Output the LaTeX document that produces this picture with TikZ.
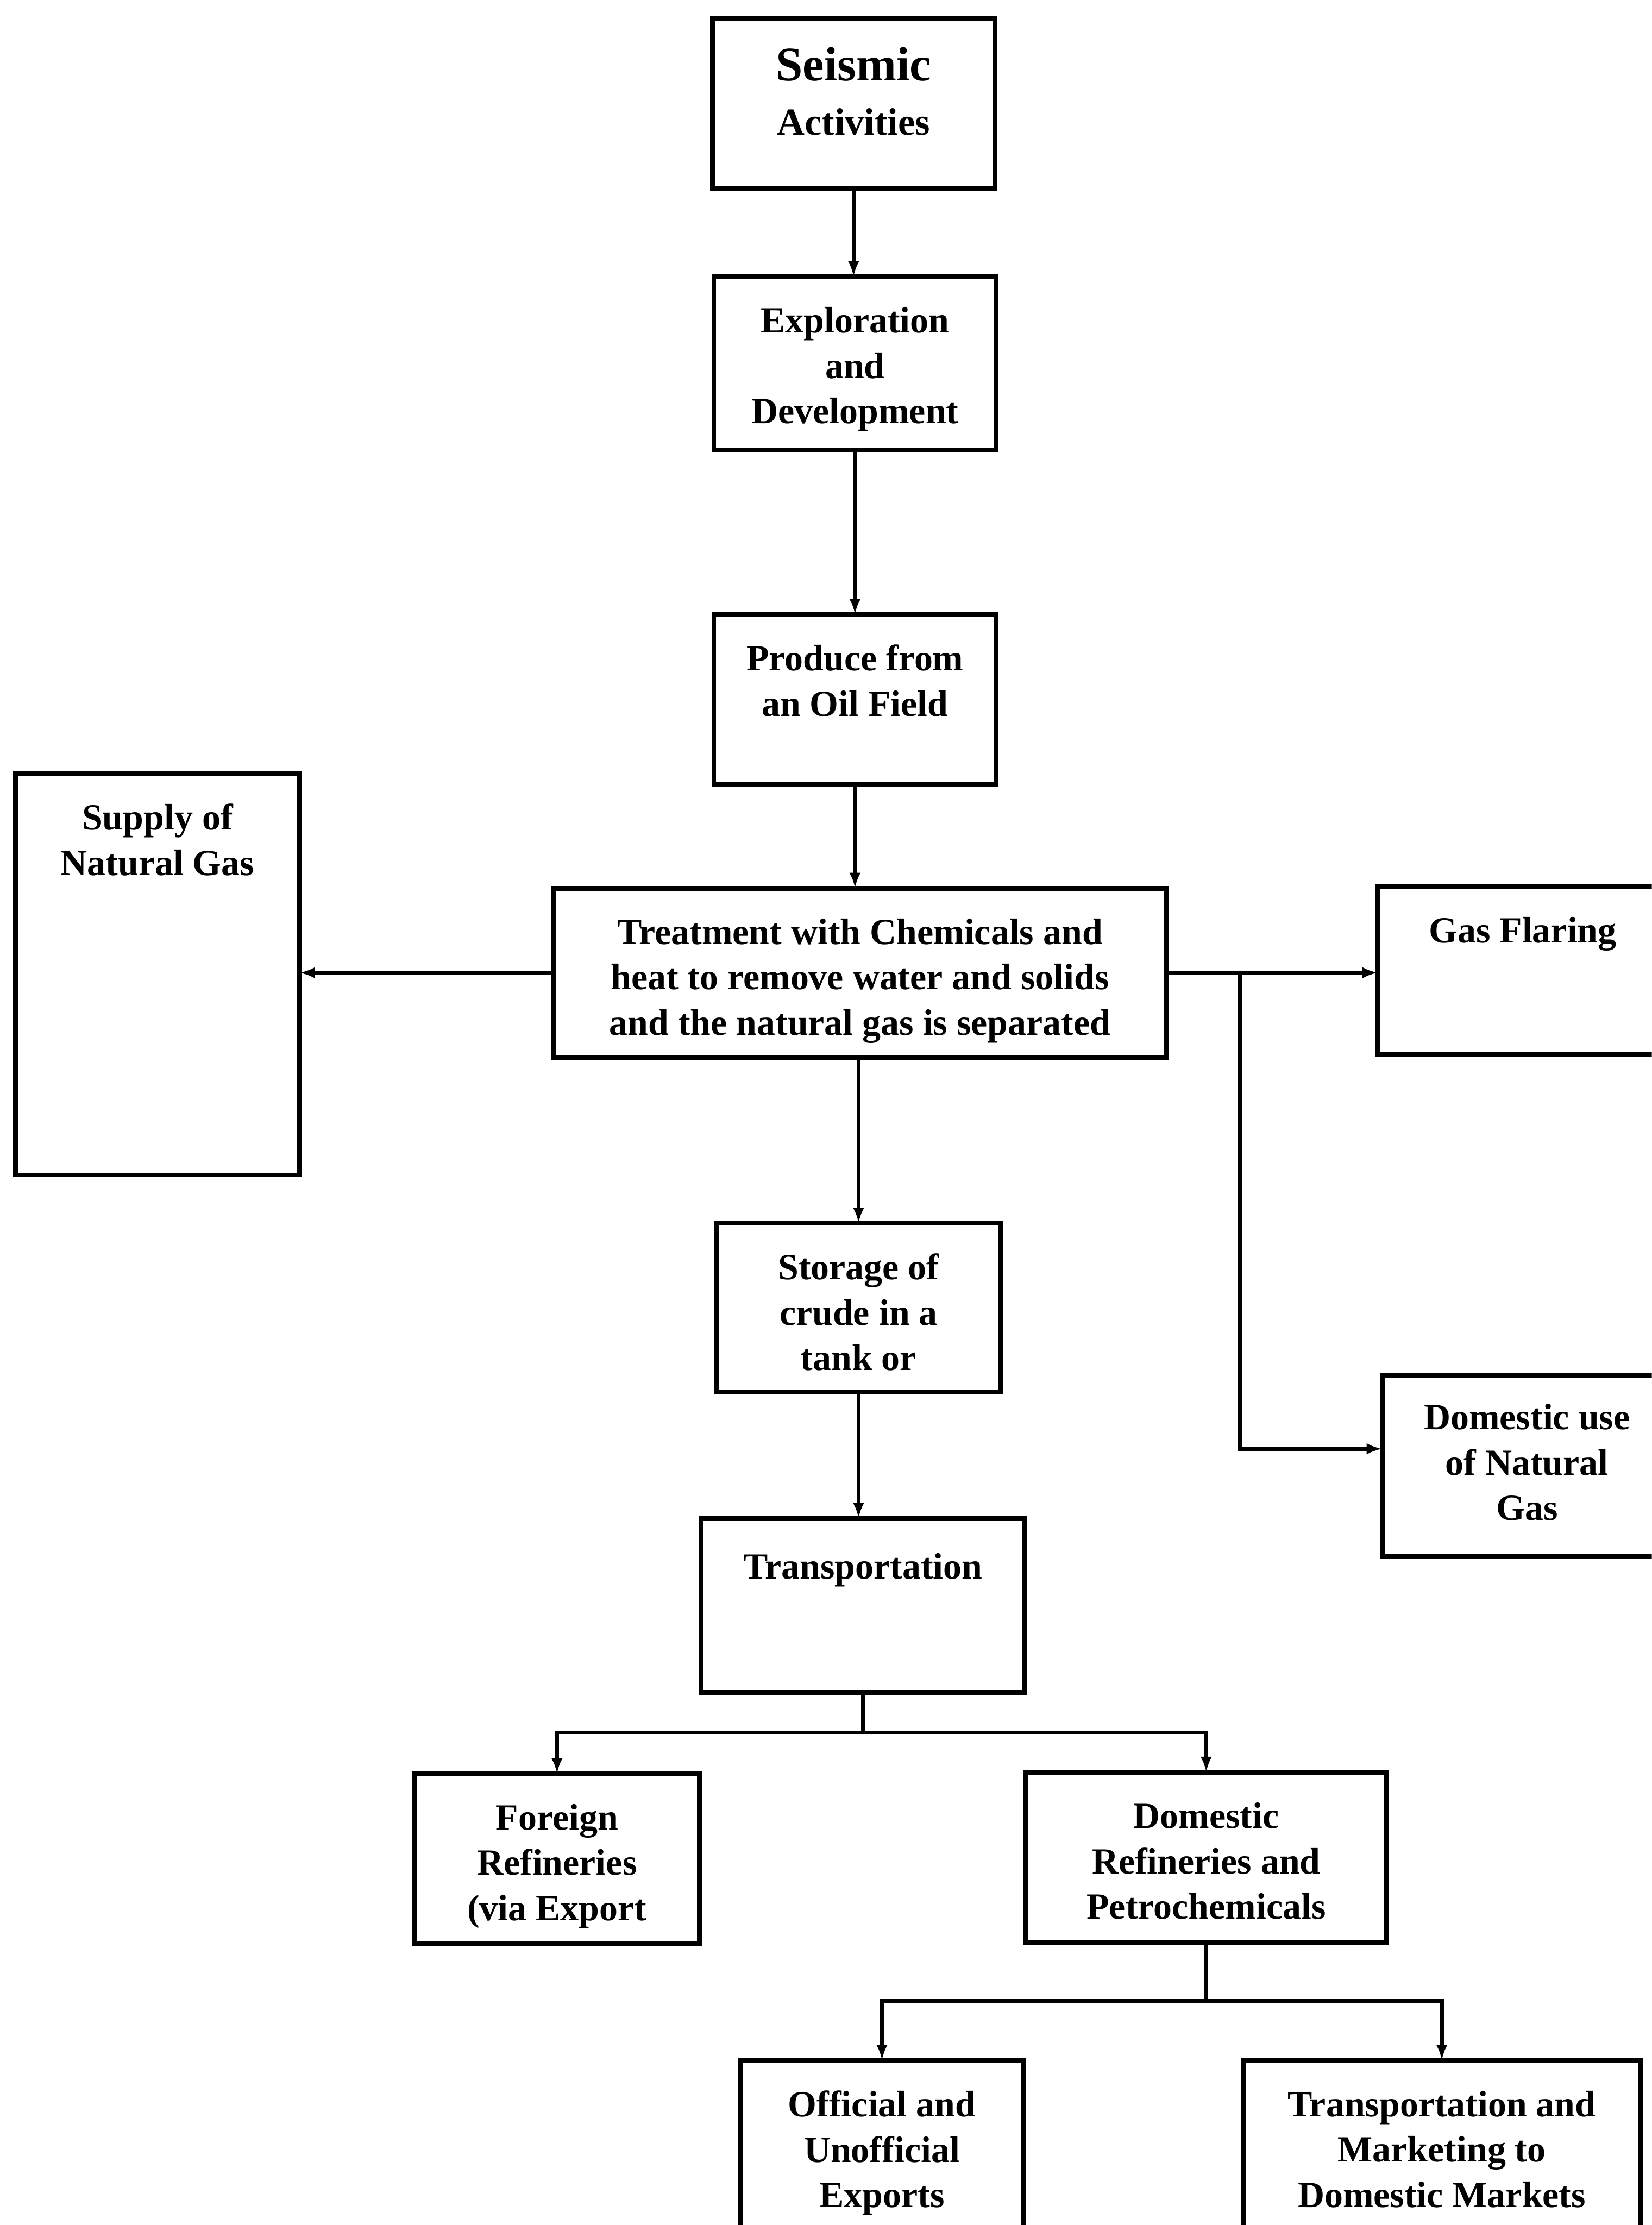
\documentclass[tikz,border=0pt]{standalone}
\usepackage{fontspec}
\setmainfont{Liberation Serif}
\usetikzlibrary{arrows.meta,fit}
\begin{document}
\begin{tikzpicture}[x=0.5pt,y=-0.5pt,
  box/.style={draw, line width=1.7pt, inner sep=0pt, outer sep=0pt},
  txt/.style={align=center, inner sep=0pt, anchor=north, font=\fontsize{13}{16}\selectfont\bfseries},
  conn/.style={line width=1.4pt},
  arr/.style={conn, -{Latex[length=5.5pt,width=4pt]}}]
\useasboundingbox (0,0) rectangle (1164,1568);
\clip (0,0) rectangle (1164,1568);
% boxes
\node[box, fit={(502,13)(701,133)}] (seis) {};
\node[box, fit={(503,195)(702,317)}] (expl) {};
\node[box, fit={(503,433)(702,553)}] (prod) {};
\node[box, fit={(11,545)(211,828)}] (supply) {};
\node[box, fit={(390,626)(822,745)}] (treat) {};
\node[box, fit={(971,625)(1175,743)}] (flare) {};
\node[box, fit={(974,969)(1178,1097)}] (domgas) {};
\node[box, fit={(505,862)(705,981)}] (stor) {};
\node[box, fit={(494,1070)(722,1193)}] (trans) {};
\node[box, fit={(292,1250)(493,1370)}] (foreign) {};
\node[box, fit={(723,1249)(977,1369)}] (domref) {};
\node[box, fit={(522,1452)(721,1600)}] (offic) {};
\node[box, fit={(876,1452)(1156,1600)}] (tmark) {};
% texts
\node[txt, font=\fontsize{13.5}{19}\selectfont\bfseries] (seis-t) at ([yshift=-10pt]seis.north) {{\fontsize{17}{19}\selectfont Seismic}\\Activities};
\node[txt] (expl-t) at ([yshift=-10.5pt]expl.north) {Exploration\\and\\Development};
\node[txt] (prod-t) at ([yshift=-10.5pt]prod.north) {Produce from\\an Oil Field};
\node[txt] (supply-t) at ([yshift=-10.5pt]supply.north) {Supply of\\Natural Gas};
\node[txt] (treat-t) at ([yshift=-10.5pt]treat.north) {Treatment with Chemicals and\\heat to remove water and solids\\and the natural gas is separated};
\node[txt] (flare-t) at ([yshift=-10.5pt]flare.north) {Gas Flaring};
\node[txt] (domgas-t) at ([yshift=-10pt]domgas.north) {Domestic use\\of Natural\\Gas};
\node[txt] (stor-t) at ([yshift=-10.5pt]stor.north) {Storage of\\crude in a\\tank or};
\node[txt] (trans-t) at ([yshift=-12pt]trans.north) {Transportation};
\node[txt] (foreign-t) at ([yshift=-10.5pt]foreign.north) {Foreign\\Refineries\\(via Export};
\node[txt] (domref-t) at ([yshift=-10.5pt]domref.north) {Domestic\\Refineries and\\Petrochemicals};
\node[txt] (offic-t) at ([yshift=-10.5pt]offic.north) {Official and\\Unofficial\\Exports};
\node[txt] (tmark-t) at ([yshift=-10.5pt]tmark.north) {Transportation and\\Marketing to\\Domestic Markets};
% connectors
\draw[arr] (seis.south) -- (seis.south |- expl.north);
\draw[arr] (expl.south) -- (expl.south |- prod.north);
\draw[arr] (prod.south) -- (prod.south |- treat.north);
\draw[arr] (treat.west) -- (treat.west -| supply.east);
\draw[arr] (treat.east) -- (treat.east -| flare.west);
\coordinate (br) at ([xshift=26pt]treat.east);
\draw[arr] (br) |- ([yshift=6pt]domgas.west);
\draw[arr] (stor.north |- treat.south) -- (stor.north);
\draw[arr] (stor.south) -- (stor.south |- trans.north);
\coordinate (tj) at (608,1221);
\draw[conn] (trans.south) -- (tj);
\draw[arr] (tj) -| (foreign.north);
\draw[arr] (tj) -| (domref.north);
\coordinate (dj) at (850,1410);
\draw[conn] (domref.south) -- (dj);
\draw[arr] (dj) -| (offic.north);
\draw[arr] (dj) -| (tmark.north);
\end{tikzpicture}
\end{document}
